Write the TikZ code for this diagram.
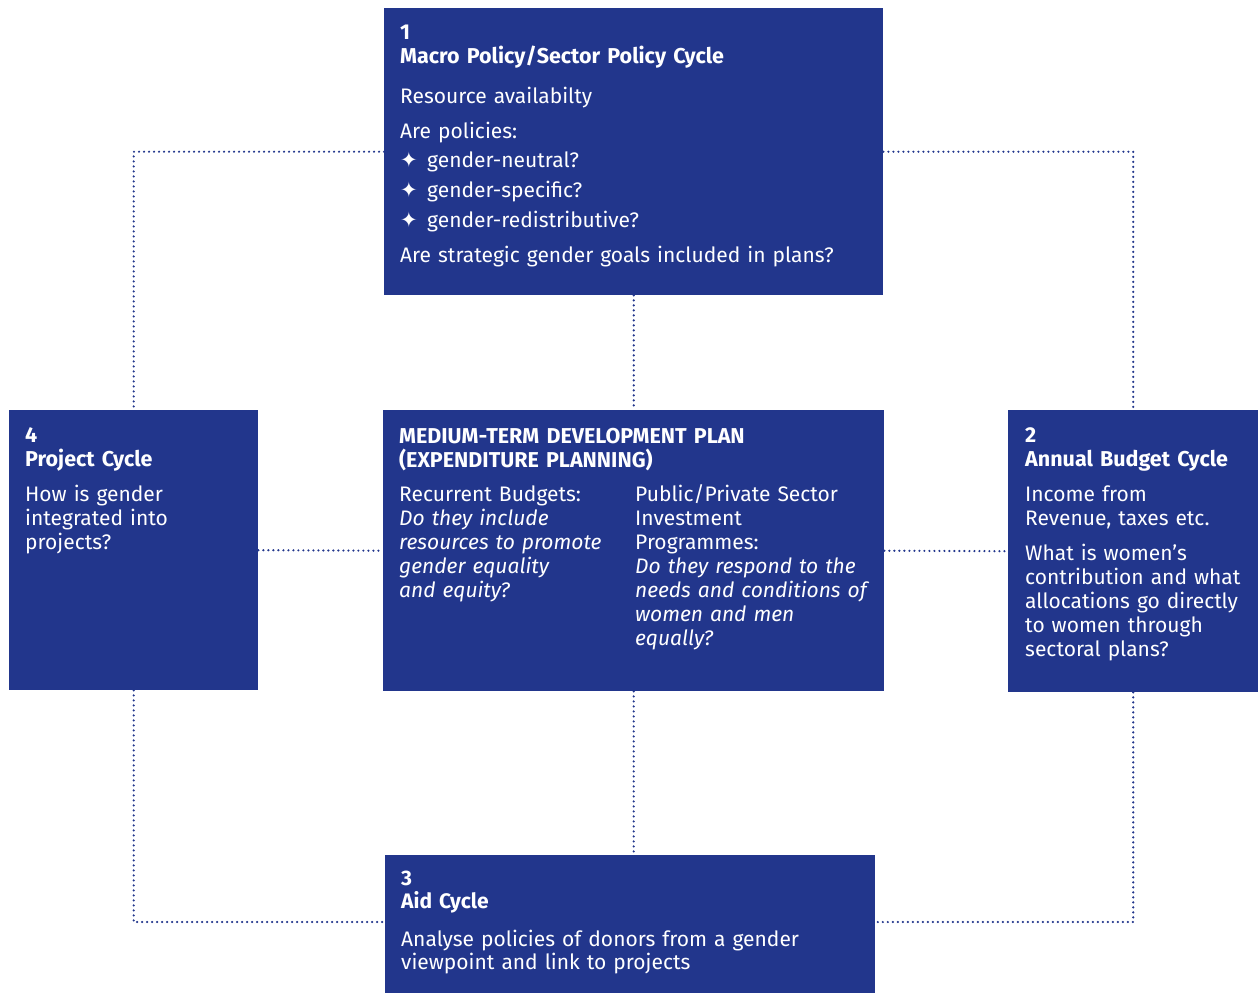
\documentclass[tikz,border=0pt]{standalone}
\usepackage{fontspec}
\setmainfont{Fira Sans}
\newfontfamily\symfont{DejaVu Sans}
\definecolor{boxblue}{RGB}{34,54,140}
\newcommand{\fsz}{\fontsize{21}{24}\selectfont}
\newcommand{\bulletstar}{\makebox[27pt][l]{\symfont\fontsize{21}{21}\selectfont ✦}}
\begin{document}
\begin{tikzpicture}[x=1pt,y=-1pt,
  box/.style={fill=boxblue, draw=none, anchor=north west, inner sep=0pt},
  txt/.style={anchor=base west, inner sep=0pt, text=white, align=left, text width=470pt,
    font=\fsz},
  ttl/.style={txt, font=\fontsize{21.5}{24}\selectfont\bfseries},
  dots/.style={draw=boxblue, line width=2.4pt, dash pattern=on 0pt off 5pt, line cap=round}]
\useasboundingbox (0,0) rectangle (1258,993);
% boxes
\node[box, minimum width=499pt, minimum height=287pt] (macro) at (384,8) {};
\node[box, minimum width=249pt, minimum height=280pt] (project) at (9,410) {};
\node[box, minimum width=501pt, minimum height=281pt] (mtdp) at (383,410) {};
\node[box, minimum width=250pt, minimum height=282pt] (budget) at (1008,410) {};
\node[box, minimum width=490pt, minimum height=145pt] (aid) at (385,855) {};
% connectors
\draw[dots] (macro.west) -| (project.north);
\draw[dots] (macro.east) -| (budget.north);
\draw[dots] (macro.south) -- (mtdp.north);
\draw[dots] (project.east) -- (mtdp.west);
\draw[dots] (mtdp.east) -- (budget.west);
\draw[dots] (mtdp.south) -- (mtdp.south |- aid.north);
\draw[dots] (project.south) |- ([yshift=-67pt]aid.north west);
\draw[dots] (budget.south) |- ([yshift=-67pt]aid.north east);
% box 1
\node[ttl] (t1) at (400,39) {1\\Macro Policy/Sector Policy Cycle};
\node[txt] (t1a) at (400,103) {Resource availabilty};
\node[txt] (t1b) at (400,138) {Are policies:};
\node[txt, font=\fontsize{21}{30}\selectfont] (t1c) at (400,167) {\bulletstar gender-neutral?\\
\bulletstar gender-specific?\\
\bulletstar gender-redistributive?};
\node[txt] (t1d) at (400,262) {Are strategic gender goals included in plans?};
% centre
\node[ttl] (tc) at (399,443) {MEDIUM-TERM DEVELOPMENT PLAN\\(EXPENDITURE PLANNING)};
\node[txt, text width=230pt] (tcl) at (399,501) {Recurrent Budgets:\\ \textit{Do they include\\resources to promote\\gender equality\\and equity?}};
\node[txt, text width=240pt] (tcr) at (635,501) {Public/Private Sector\\Investment\\Programmes:\\ \textit{Do they respond to the\\needs and conditions of\\women and men\\equally?}};
% box 4
\node[ttl, text width=220pt] (t4) at (25,442) {4\\Project Cycle};
\node[txt, text width=220pt] (t4a) at (25,501) {How is gender\\integrated into\\projects?};
% box 2
\node[ttl, text width=225pt] (t2) at (1025,442) {2\\Annual Budget Cycle};
\node[txt, text width=225pt] (t2a) at (1025,501) {Income from\\Revenue, taxes etc.};
\node[txt, text width=225pt] (t2b) at (1025,560) {What is women’s\\contribution and what\\allocations go directly\\to women through\\sectoral plans?};
% box 3
\node[ttl, font=\fontsize{21}{23}\selectfont\bfseries] (t3) at (401,885) {3\\Aid Cycle};
\node[txt, font=\fontsize{21}{23}\selectfont] (t3a) at (401,946) {Analyse policies of donors from a gender\\viewpoint and link to projects};
\end{tikzpicture}
\end{document}
